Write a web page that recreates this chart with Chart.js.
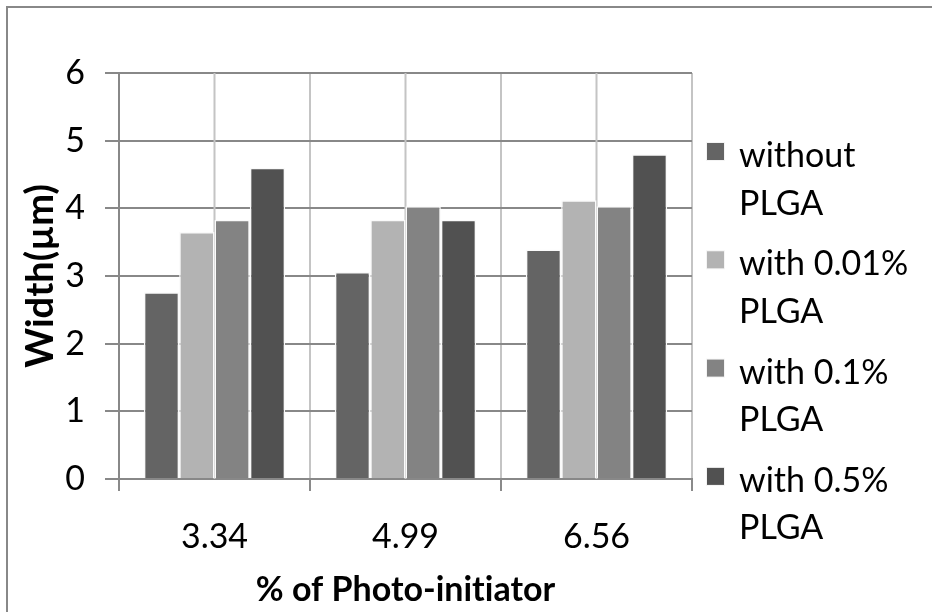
<!DOCTYPE html>
<html>
<head>
<meta charset="utf-8">
<script src="https://cdn.jsdelivr.net/npm/chart.js@4.4.1/dist/chart.umd.min.js"></script>
<style>
  html, body { margin: 0; padding: 0; background: #fff; overflow: hidden; }
  #wrap { position: relative; width: 932px; height: 612px; }
  #frame { position: absolute; left: 6px; top: 6px; width: 1000px; height: 1000px;
           border-left: 2px solid #888; border-top: 2px solid #888; pointer-events: none; }
</style>
</head>
<body>
<div id="wrap">
  <canvas id="widthChart"></canvas>
  <div id="frame"></div>
</div>
<script>
// categories (% of photo-initiator)
var categories = ['3.34', '4.99', '6.56'];

// fibre width (um) per PLGA content
var withoutPlga = [2.76, 3.06, 3.39];
var plga001 = [3.65, 3.83, 4.12];
var plga01 = [3.83, 4.03, 4.03];
var plga05 = [4.60, 3.83, 4.80];

var seriesNames = [
    ['without', 'PLGA'],
    ['with 0.01%', 'PLGA'],
    ['with 0.1%', 'PLGA'],
    ['with 0.5%', 'PLGA']
];
var seriesColors = ['#646464', '#b3b3b3', '#838383', '#515151'];

var yTicks = [0, 1, 2, 3, 4, 5, 6];

var FONT = 'Lato, "Open Sans", sans-serif';
Chart.defaults.font.family = FONT;
Chart.defaults.color = '#000';

// no "ti" ligatures from Lato
var plainText = {
    id: 'plainText',
    beforeDraw: function (chart) {
        chart.ctx.textRendering = 'optimizeSpeed';
    }
};

// light grey lines through the middle of each category, behind the bars
var centerLines = {
    id: 'centerLines',
    beforeDatasetsDraw: function (chart) {
        var x = chart.scales.x, area = chart.chartArea, ctx = chart.ctx;
        ctx.save();
        ctx.strokeStyle = '#c4c4c4';
        ctx.lineWidth = 2;
        categories.forEach(function (c, i) {
            var px = x.getPixelForValue(i);
            ctx.beginPath();
            ctx.moveTo(px, area.top);
            ctx.lineTo(px, area.bottom);
            ctx.stroke();
        });
        ctx.restore();
    }
};

// two-line legend on the right, like the original
var sideLegend = {
    id: 'sideLegend',
    afterDraw: function (chart, args, opts) {
        var ctx = chart.ctx;
        ctx.save();
        ctx.font = '34px ' + FONT;
        ctx.textBaseline = 'alphabetic';
        ctx.textAlign = 'left';
        chart.data.datasets.forEach(function (ds, i) {
            var base = opts.top + i * opts.gap;
            ctx.fillStyle = '#f4f4f4';
            ctx.fillRect(opts.x - 1, base - 25, 19, 19);
            ctx.fillStyle = ds.backgroundColor;
            ctx.fillRect(opts.x, base - 24, 17, 17);
            ctx.fillStyle = '#000';
            seriesNames[i].forEach(function (t, j) {
                ctx.fillText(t, opts.x + 32, base + j * opts.lineHeight);
            });
        });
        ctx.restore();
    }
};

var datasets = [withoutPlga, plga001, plga01, plga05].map(function (vals, i) {
    return {
        label: seriesNames[i].join(' '),
        data: vals,
        backgroundColor: seriesColors[i],
        borderColor: '#fafafa',
        borderWidth: 1.5,
        categoryPercentage: 0.74,
        barPercentage: 1.0
    };
});

new Chart(document.getElementById('widthChart'), {
    type: 'bar',
    data: { labels: categories, datasets: datasets },
    plugins: [plainText, centerLines, sideLegend],
    options: {
        responsive: true,
        maintainAspectRatio: false,
        animation: false,
        layout: { padding: { left: 0, right: 240, top: 73, bottom: 0 } },
        plugins: {
            legend: { display: false },
            tooltip: { enabled: false },
            sideLegend: { x: 707, top: 167, gap: 108.3, lineHeight: 47.5 }
        },
        scales: {
            x: {
                grid: { offset: true, color: '#c4c4c4', lineWidth: 2, tickColor: '#8a8a8a', tickLength: 12 },
                border: { color: '#888', width: 2 },
                ticks: { font: { size: 34 }, padding: 26 },
                title: {
                    display: true,
                    text: '% of Photo-initiator',
                    font: { size: 34, weight: 'bold' },
                    padding: { top: 0, bottom: 2 }
                },
                afterFit: function (s) { s.height = 133; }
            },
            y: {
                min: 0,
                max: 6,
                afterBuildTicks: function (s) { s.ticks = yTicks.map(function (v) { return { value: v }; }); },
                grid: { color: '#888', lineWidth: 2, tickLength: 14 },
                border: { color: '#888', width: 2 },
                ticks: { font: { size: 34 }, padding: 20 },
                title: {
                    display: true,
                    text: 'Width(µm)',
                    font: { size: 38, weight: 'bold' },
                    padding: { top: 18, bottom: 0 }
                },
                afterFit: function (s) { s.width = 119; }
            }
        }
    }
});
</script>
</body>
</html>
